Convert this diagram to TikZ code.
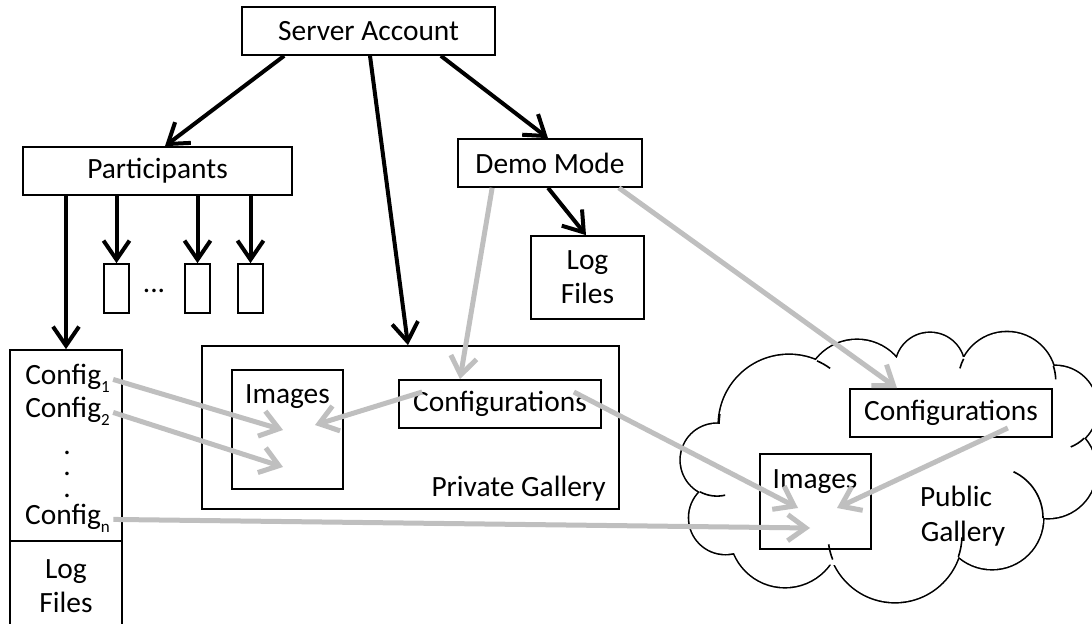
\documentclass[tikz,border=0pt]{standalone}
\usepackage{fontspec}
\setmainfont{Carlito}
\usetikzlibrary{arrows.meta}
\definecolor{arrgray}{RGB}{191,191,191}
\newcommand\mysub[1]{\raisebox{-3.6pt}{\fontsize{8.5}{9}\selectfont #1}}
\begin{document}
\begin{tikzpicture}[x=0.5pt,y=-0.5pt,
  font=\fontsize{14.7}{17}\selectfont,
  box/.style={draw, line width=0.85pt, inner sep=0pt, align=center},
  txt/.style={inner sep=0pt, anchor=base},
  dotstyle/.style={inner sep=0pt, anchor=base, text height=1.6pt, text depth=0pt},
  blk/.style={line width=2pt, -{Straight Barb[length=9.5pt,width=13pt]}},
  gry/.style={line width=2.5pt, draw=arrgray, -{Straight Barb[length=9pt,width=13pt]}},
  tail/.style={line width=0.8pt}]
\useasboundingbox (0,0) rectangle (1092,624);

% ---------- cloud (public gallery) ----------
\def\cloudcircles{789/425/70, 857/392/52, 930/367.3/34.3, 1007/381/48.75, 1055/408/42, 1048/470/48, 992/518/51, 895/535/67, 785/532/55, 725.5/517.7/36.2, 717/460/36.1}
\foreach \cx/\cy/\r in \cloudcircles
  \draw[line width=1.6pt] (\cx,\cy) circle[radius=\r];
\foreach \cx/\cy/\r in \cloudcircles
  \fill[white] (\cx,\cy) circle[radius=\r];
\fill[white] (719,424) -- (817,360) -- (897,358) -- (963,357) -- (1052,368) -- (1084,438)
  -- (1043,518) -- (960,555) -- (833,565) -- (737,552) -- (700,492) -- cycle;
\draw[tail] (789,425) ++(-66.4:70) arc[start angle=-66.4, end angle=-54, radius=70];
\draw[tail] (789,425) ++(181:70) arc[start angle=181, end angle=189, radius=70];
\draw[tail] (1007,381) ++(-18:48.75) arc[start angle=-18, end angle=-2, radius=48.75];
\draw[tail] (1007,381) ++(-153:48.75) arc[start angle=-153, end angle=-165, radius=48.75];
\draw[tail] (1055,408) ++(46:42) arc[start angle=46, end angle=68, radius=42];
\draw[tail] (992,518) ++(0:51) arc[start angle=0, end angle=-65, radius=51];
\draw[tail] (895,535) ++(19:67) arc[start angle=19, end angle=2, radius=67];
\draw[tail] (895,535) ++(158.5:67) arc[start angle=158.5, end angle=172, radius=67];
\draw[tail] (717,460) ++(118:36.1) arc[start angle=118, end angle=77, radius=36.1];

% ---------- nodes ----------
\node[box, minimum width=126.5pt, minimum height=24pt] (server) at (368.5,31) {Server Account};
\node[box, minimum width=134.5pt, minimum height=24pt] (part) at (157.5,171) {Participants};
\node[box, minimum width=92pt, minimum height=24pt] (demo) at (550,163) {Demo Mode};
\node[box, minimum width=56.5pt, minimum height=41.5pt] (logdemo) at (587.5,277.5) {Log\\Files};

\node[box, minimum width=12.5pt, minimum height=24.5pt] (b1) at (116.5,288.5) {};
\node[box, minimum width=12.5pt, minimum height=24.5pt] (b2) at (197.5,288.5) {};
\node[box, minimum width=12.5pt, minimum height=24.5pt] (b3) at (250.5,288.5) {};
\node[txt] (ell) at (154,293) {...};

\node[box, minimum width=56pt, minimum height=95.5pt] (cfg) at (66,445.5) {};
\node[box, minimum width=56pt, minimum height=45.5pt] (logleft) at (66,586.5) {Log\\Files};
\node[txt] (c1) at (67.5,385) {Config\mysub{1}};
\node[txt] (c2) at (67.5,418) {Config\mysub{2}};
\node[dotstyle] (d1) at (67,455) {.};
\node[dotstyle] (d2) at (67,476) {.};
\node[dotstyle] (d3) at (67,498) {.};
\node[txt] (cn) at (67.5,525) {Config\mysub{n}};

\node[box, minimum width=208.5pt, minimum height=81.5pt] (privgal) at (410.5,427.5) {};
\node[box, minimum width=55.5pt, minimum height=59.5pt] (privimg) at (287.5,429.5) {};
\node[txt] (privimgt) at (287.5,404) {Images};
\node[box, minimum width=101pt, minimum height=24pt] (privconf) at (500,404) {Configurations};
\node[inner sep=0pt, anchor=base east] (privlbl) at (606,497) {Private Gallery};

\node[box, minimum width=101pt, minimum height=24pt] (pubconf) at (951,413) {Configurations};
\node[box, minimum width=55.5pt, minimum height=47.5pt] (pubimg) at (815.5,501.5) {};
\node[txt] (pubimgt) at (815,489) {Images};
\node[txt] (pub1) at (956,507) {Public};
\node[txt] (pub2) at (963,542) {Gallery};

% ---------- black arrows ----------
\draw[blk] ([shift={(43,0)}]server.south west) -- ([shift={(7.5,0)}]part.north);
\draw[blk] ([shift={(1.5,0)}]server.south) -- ([shift={(-2.5,0)}]privgal.north);
\draw[blk] ([shift={(-55,0)}]server.south east) -- ([shift={(-2,0)}]demo.north);
\draw[blk] ([shift={(-2,0)}]demo.south) -- ([shift={(-1.5,0)}]logdemo.north);
\draw[blk] (b1.north |- part.south) -- (b1.north);
\draw[blk] (b2.north |- part.south) -- (b2.north);
\draw[blk] (b3.north |- part.south) -- (b3.north);
\draw[blk] (cfg.north |- part.south) -- (cfg.north);

% ---------- grey arrows ----------
\draw[gry] ([shift={(3,1)}]c1.east) -- ([shift={(-4.5,0.5)}]privimg.center);
\draw[gry] ([shift={(3,1)}]c2.east) -- ([shift={(-4.5,37.5)}]privimg.center);
\draw[gry] ([shift={(3,1)}]cn.east) -- ([shift={(-5.5,26.5)}]pubimg.center);
\draw[gry] ([shift={(24,-12)}]privconf.west) -- ([shift={(27.5,-4.5)}]privimg.center);
\draw[gry] ([shift={(-28,-12)}]privconf.east) -- ([shift={(-17.5,6.5)}]pubimg.center);
\draw[gry] ([shift={(-45,15)}]pubconf.east) -- ([shift={(21.5,6.5)}]pubimg.center);
\draw[gry] ([shift={(35,0)}]demo.south west) -- ([shift={(-40,0)}]privconf.north);
\draw[gry] ([shift={(-24,0)}]demo.south east) -- ([shift={(-54,0)}]pubconf.north);
\end{tikzpicture}
\end{document}
